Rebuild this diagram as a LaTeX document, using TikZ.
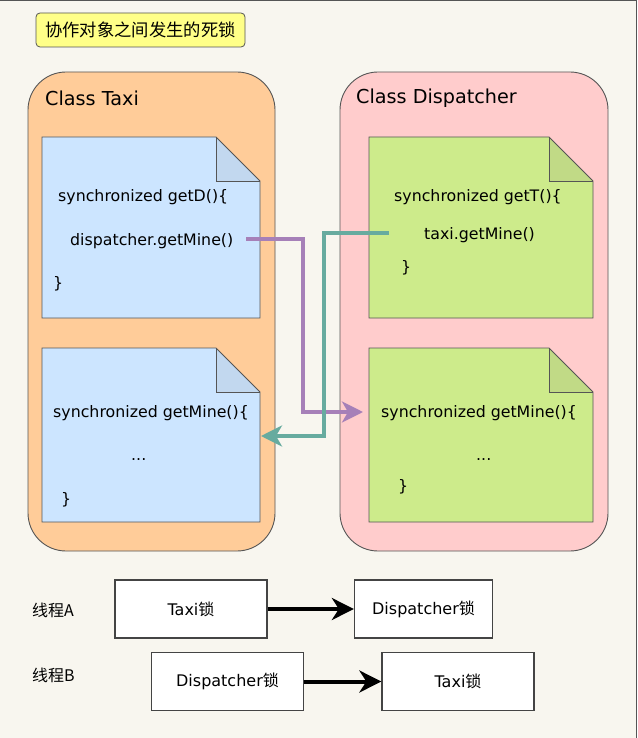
\documentclass[tikz,border=0pt]{standalone}
\usepackage{fontspec}
\setmainfont{DejaVu Sans}
\newfontfamily\cjk{Noto Sans CJK SC}
\usetikzlibrary{arrows.meta}
\definecolor{bg}{HTML}{F8F6EF}
\definecolor{edge}{HTML}{555555}
\definecolor{titlefill}{HTML}{FFFF88}
\definecolor{taxifill}{HTML}{FFCC99}
\definecolor{dispfill}{HTML}{FFCCCC}
\definecolor{bluenote}{HTML}{CCE5FF}
\definecolor{bluefold}{HTML}{C2D8EF}
\definecolor{greennote}{HTML}{CDEB8B}
\definecolor{greenfold}{HTML}{C1DA86}
\definecolor{purpleline}{HTML}{A680B8}
\definecolor{tealline}{HTML}{67AB9F}
\tikzset{
  titlebox/.style={draw=edge, fill=titlefill, rounded corners=4pt, line width=0.8pt, minimum width=209pt, minimum height=34pt, inner sep=0pt, font=\fontsize{17.3}{19}\selectfont},
  container/.style={draw=edge, line width=0.9pt, rounded corners=38pt, inner sep=0pt},
  classlabel/.style={anchor=west, inner sep=0pt, font=\fontsize{19.2}{21}\selectfont},
  codetext/.style={anchor=west, inner sep=0pt, font=\fontsize{15.8}{18}\selectfont},
  lockbox/.style={draw=edge!80!black, fill=white, line width=1.3pt, inner sep=0pt, minimum height=58pt, font=\fontsize{16}{18}\selectfont},
  threadlabel/.style={anchor=west, inner sep=0pt, font=\fontsize{16}{18}\selectfont},
  notebody/.style={draw=edge, line width=0.9pt},
  flow/.style={line width=3.5pt, -{Stealth[length=21pt, width=21pt, inset=6pt]}},
  lockarrow/.style={line width=4pt, black, -{Stealth[length=22pt, width=22pt, inset=7pt]}}
}
\newcommand{\notebox}[6]{%
  \fill[#5] (#1,#2) -- ({#3-44},#2) -- (#3,{#2+44}) -- (#3,#4) -- (#1,#4) -- cycle;
  \fill[#6] ({#3-44},#2) -- ({#3-44},{#2+44}) -- (#3,{#2+44}) -- cycle;
  \draw[notebody] ({#3-44},#2) -- ({#3-44},{#2+44}) -- (#3,{#2+44});
  \draw[notebody] (#1,#2) -- ({#3-44},#2) -- (#3,{#2+44}) -- (#3,#4) -- (#1,#4) -- cycle;
}
\begin{document}
\begin{tikzpicture}[x=1pt,y=-1pt]
\useasboundingbox (0,0) rectangle (637,738);
\fill[bg] (0,0) rectangle (637,738);
\draw[edge, line width=1.2pt] (0,0.6) -- (636.4,0.6) -- (636.4,738);

\node[titlebox] (title) at (140.5,30) {\cjk 协作对象之间发生的死锁};

% containers
\node[container, fill=taxifill, minimum width=247pt, minimum height=479pt] (taxi) at (151.5,311.5) {};
\node[container, fill=dispfill, minimum width=268pt, minimum height=479pt] (disp) at (474,311.5) {};
\node[classlabel] (taxilabel) at (45,98) {Class Taxi};
\node[classlabel] (displabel) at (356,98) {Class Dispatcher};

% notes
\notebox{42}{137}{260}{318}{bluenote}{bluefold}
\notebox{42}{348}{260}{522}{bluenote}{bluefold}
\notebox{369}{137}{593}{318}{greennote}{greenfold}
\notebox{369}{348}{593}{522}{greennote}{greenfold}

\node[codetext] (t1) at (58,197) {synchronized getD()\{};
\node[codetext] (t2) at (70,241) {dispatcher.getMine()};
\node[codetext] (t3) at (53,284) {\}};
\node[codetext] (t4) at (53,413) {synchronized getMine()\{};
\node[codetext] (t5) at (131,460) {...};
\node[codetext] (t6) at (61,500) {\}};

\node[codetext] (d1) at (394,197) {synchronized getT()\{};
\node[codetext] (d2) at (424,235) {taxi.getMine()};
\node[codetext] (d3) at (401,268) {\}};
\node[codetext] (d4) at (381,413) {synchronized getMine()\{};
\node[codetext] (d5) at (476,460) {...};
\node[codetext] (d6) at (398,487) {\}};

% flows
\coordinate (pstart) at (246,239);
\coordinate (pend) at (363,412);
\coordinate (tstart) at (389,233);
\coordinate (tend) at (261,436);
\draw[flow, purpleline] (pstart) -- (303,239) -- (303,412) -- (pend);
\draw[flow, tealline] (tstart) -- (324,233) -- (324,436) -- (tend);

% thread locks
\node[threadlabel] (ta) at (32,610) {\cjk 线程A};
\node[threadlabel] (tb) at (32,675) {\cjk 线程B};
\node[lockbox, minimum width=152pt] (a1) at (191,609) {Taxi{\cjk 锁}};
\node[lockbox, minimum width=138pt] (a2) at (423.5,609) {Dispatcher{\cjk 锁}};
\node[lockbox, minimum width=152pt] (b1) at (227.5,681.5) {Dispatcher{\cjk 锁}};
\node[lockbox, minimum width=152pt] (b2) at (458,681.5) {Taxi{\cjk 锁}};
\draw[lockarrow] (a1) -- (a2);
\draw[lockarrow] (b1) -- (b2);
\end{tikzpicture}
\end{document}
